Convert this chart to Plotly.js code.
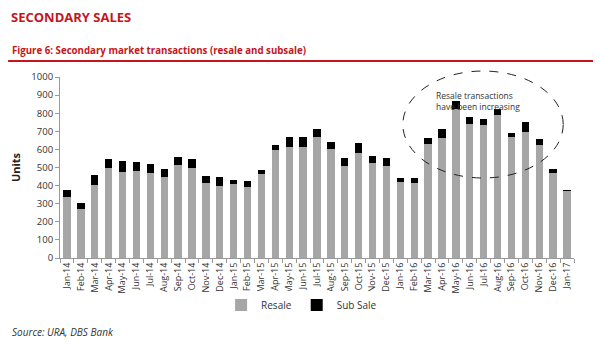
<!DOCTYPE html>
<html>
<head>
<meta charset="utf-8">
<script src="https://cdn.plot.ly/plotly-3.0.1.min.js"></script>
<style>html,body{margin:0;padding:0;background:#fff;}#chart{width:600px;height:360px;}</style>
</head>
<body>
<div id="chart"></div>
<script>
const months = ["Jan-14","Feb-14","Mar-14","Apr-14","May-14","Jun-14","Jul-14","Aug-14","Sep-14","Oct-14","Nov-14","Dec-14",
  "Jan-15","Feb-15","Mar-15","Apr-15","May-15","Jun-15","Jul-15","Aug-15","Sep-15","Oct-15","Nov-15","Dec-15",
  "Jan-16","Feb-16","Mar-16","Apr-16","May-16","Jun-16","Jul-16","Aug-16","Sep-16","Oct-16","Nov-16","Dec-16","Jan-17"];
const resale = [335,272,402,498,474,483,468,448,513,498,415,400,
  408,392,463,594,616,616,669,605,509,579,524,507,
  419,414,631,665,822,741,735,789,671,695,625,467,371];
const subSale = [40,30,55,50,60,50,52,45,45,50,38,45,
  24,32,24,31,53,50,42,38,44,57,37,46,
  22,27,34,46,46,40,35,33,20,55,35,27,3];
const yTicks = [0,100,200,300,400,500,600,700,800,900,1000];

const red = "#c4161c";
const font = "Open Sans, Noto Sans, sans-serif";

const traces = [
  {type:"bar", name:"Resale", x:months, y:resale, marker:{color:"#a6a6a6"}},
  {type:"bar", name:"Sub Sale", x:months, y:subSale, marker:{color:"#000000"}}
];

const layout = {
  width:600, height:360,
  margin:{l:60, r:26, t:77, b:102},
  paper_bgcolor:"#fff", plot_bgcolor:"#fff",
  barmode:"stack", bargap:0.47,
  font:{family:font, color:"#333", size:9},
  showlegend:true,
  legend:{orientation:"h", traceorder:"normal", x:0.47, xanchor:"center", y:-0.26, yanchor:"middle",
    font:{size:10, color:"#333"}, itemwidth:30, tracegroupgap:0},
  title:{text:"<b>SECONDARY SALES</b>", x:11/600, xanchor:"left", y:1-17/360, yanchor:"middle",
    font:{family:font, size:13, color:red}},
  xaxis:{type:"category", tickangle:-90, tickfont:{size:9, color:"#333"},
    showline:true, linecolor:"#999", linewidth:1, ticks:"outside", ticklen:4, tickcolor:"#999",
    tickson:"boundaries", showgrid:false, fixedrange:true},
  yaxis:{range:[0,1000], tickvals:yTicks, ticktext:yTicks.map(String), tickfont:{size:9.5, color:"#333"},
    showline:true, linecolor:"#999", linewidth:1, ticks:"outside", ticklen:4, tickcolor:"#999",
    showgrid:false, zeroline:false,
    title:{text:"<b>Units</b>", font:{size:11, color:"#222"}, standoff:8}},
  shapes:[
    {type:"line", xref:"paper", yref:"paper", x0:-0.101, x1:1.037, y0:1.088, y1:1.088,
      line:{color:red, width:2}},
    {type:"circle", xref:"paper", yref:"paper", x0:0.667, x1:0.979, y0:0.442, y1:1.033,
      line:{color:"#222", width:1, dash:"dash"}}
  ],
  annotations:[
    {xref:"paper", yref:"paper", x:-0.097, y:1.146, xanchor:"left", yanchor:"middle", showarrow:false,
      text:"<b>Figure 6: Secondary market transactions (resale and subsale)</b>",
      font:{family:font, size:9.7, color:red}},
    {xref:"paper", yref:"paper", x:0.728, y:0.867, xanchor:"left", yanchor:"middle", align:"left", showarrow:false,
      text:"Resale transactions<br>have been increasing", font:{size:8.5, color:"#333"}},
    {xref:"paper", yref:"paper", x:-0.097, y:-0.41, xanchor:"left", yanchor:"middle", showarrow:false,
      text:"<i>Source: URA, DBS Bank</i>", font:{size:10, color:"#333"}}
  ]
};

Plotly.newPlot("chart", traces, layout, {displayModeBar:false, staticPlot:true});
</script>
</body>
</html>
